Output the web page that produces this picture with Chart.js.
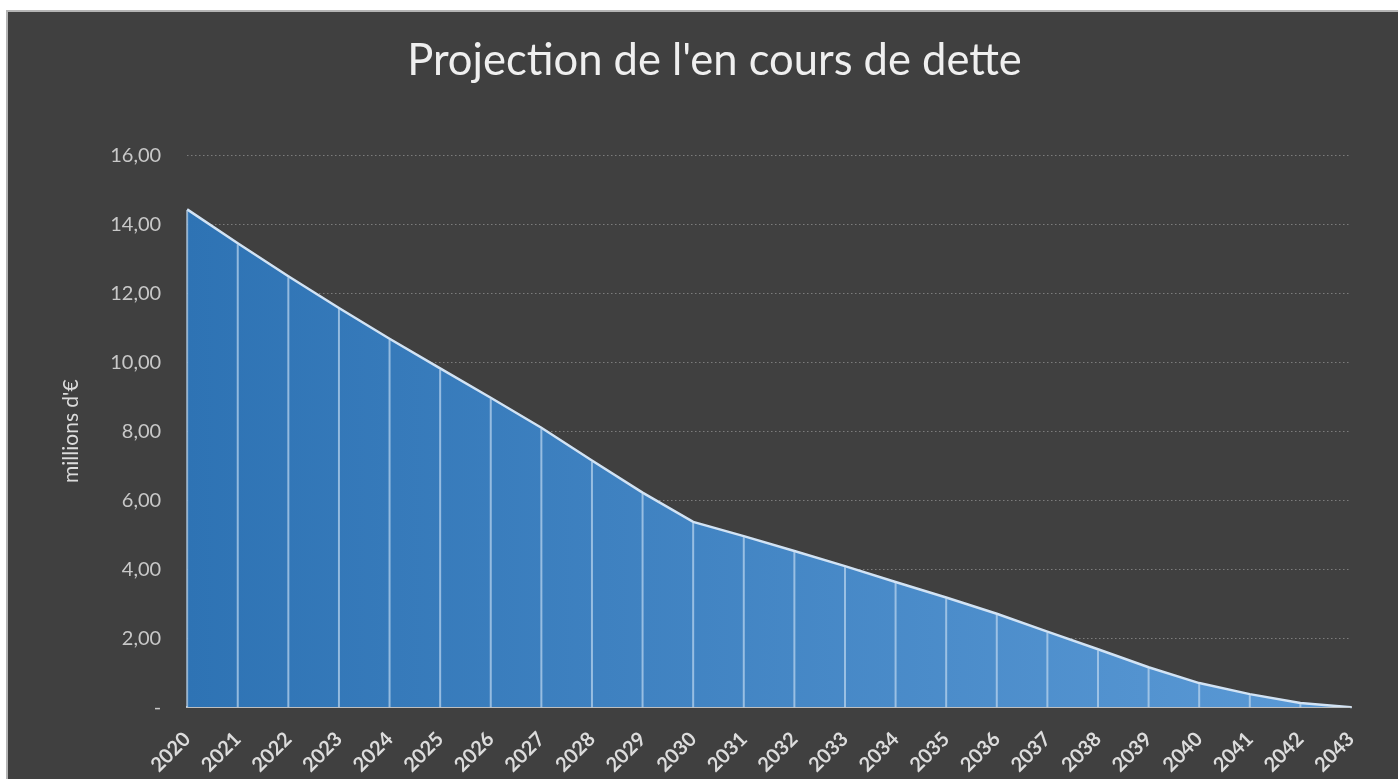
<!DOCTYPE html>
<html>
<head>
<meta charset="utf-8">
<script src="https://cdn.jsdelivr.net/npm/chart.js@4"></script>
<style>
  html, body { margin: 0; padding: 0; background: #fff; overflow: hidden; }
  #frame {
    position: absolute; left: 6px; top: 10px;
    width: 1390px; height: 790px;
    background: #404040; border: 2px solid #b4b4b4; border-right: none;
  }
  #wrap { position: absolute; left: 0; top: 0; width: 1390px; height: 769px; }
</style>
</head>
<body>
<div id="frame"><div id="wrap"><canvas id="debtChart"></canvas></div></div>
<script>
// --- données (millions d'€) ---
const years = ["2020","2021","2022","2023","2024","2025","2026","2027","2028","2029","2030",
  "2031","2032","2033","2034","2035","2036","2037","2038","2039","2040","2041","2042","2043"];
const debt = [14.43, 13.45, 12.49, 11.57, 10.68, 9.82, 8.97, 8.10, 7.15, 6.22, 5.37,
  4.96, 4.53, 4.09, 3.63, 3.18, 2.71, 2.19, 1.68, 1.16, 0.70, 0.38, 0.12, 0.00];
const yTicks = [0, 2, 4, 6, 8, 10, 12, 14, 16];

const FONT = "Lato, 'Open Sans', sans-serif";

// lignes verticales de chaque point jusqu'à l'axe
const dropLines = {
  id: "dropLines",
  afterDatasetsDraw(chart) {
    const ctx = chart.ctx;
    const meta = chart.getDatasetMeta(0);
    const bottom = chart.scales.y.getPixelForValue(0);
    ctx.save();
    ctx.strokeStyle = "rgba(190,215,240,0.7)";
    ctx.lineWidth = 2;
    meta.data.forEach((p) => {
      ctx.beginPath();
      ctx.moveTo(p.x, p.y + 1);
      ctx.lineTo(p.x, bottom);
      ctx.stroke();
    });
    ctx.restore();
  },
};

// le titre est un peu décalé vers la droite dans l'original
const titleNudge = {
  id: "titleNudge",
  afterLayout(chart) {
    if (chart.titleBlock) chart.titleBlock.left += 23;
  },
};

function fillGradient(context) {
  const area = context.chart.chartArea;
  if (!area) return "#3f7fc0";
  const g = context.chart.ctx.createLinearGradient(area.left, 0, area.right, 0);
  g.addColorStop(0, "#2e73b4");
  g.addColorStop(1, "#5b9ad6");
  return g;
}

new Chart(document.getElementById("debtChart"), {
  type: "line",
  data: {
    labels: years,
    datasets: [{
      data: debt,
      fill: "origin",
      backgroundColor: fillGradient,
      borderColor: "#d2e3f4",
      borderWidth: 2.5,
      pointRadius: 0,
      tension: 0,
    }],
  },
  options: {
    responsive: true,
    maintainAspectRatio: false,
    animation: false,
    layout: { padding: { left: 47, right: 47, top: 10, bottom: -8 } },
    plugins: {
      legend: { display: false },
      tooltip: { enabled: false },
      title: {
        display: true,
        text: "Projection de l'en cours de dette",
        color: "#efefef",
        font: { family: FONT, size: 43.5, weight: "normal" },
        padding: { top: 13, bottom: 68 },
      },
    },
    scales: {
      x: {
        offset: false,
        grid: { display: false },
        border: { display: true, color: "#bfbfbf", width: 2 },
        ticks: {
          autoSkip: false,
          maxRotation: 45,
          minRotation: 45,
          color: "#dcdcdc",
          padding: 12,
          font: { family: FONT, size: 20, weight: "bold" },
        },
      },
      y: {
        min: 0,
        max: 16,
        afterBuildTicks: (axis) => { axis.ticks = yTicks.map((v) => ({ value: v })); },
        grid: { color: "#7c7c7c", lineWidth: 1, drawTicks: false },
        border: { display: false, dash: [1.5, 2.5] },
        title: {
          display: true,
          text: "millions d'€",
          color: "#dcdcdc",
          font: { family: FONT, size: 21 },
          padding: { top: 4, bottom: 0 },
        },
        ticks: {
          color: "#c8c8c8",
          padding: 26,
          font: { family: FONT, size: 20 },
          callback: (v) => (v === 0 ? "-" : v.toFixed(2).replace(".", ",")),
        },
      },
    },
  },
  plugins: [dropLines, titleNudge],
});
</script>
</body>
</html>
